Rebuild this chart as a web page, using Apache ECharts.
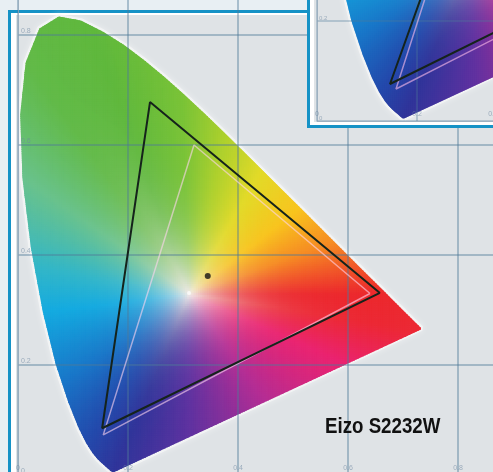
<!DOCTYPE html>
<html>
<head>
<meta charset="utf-8">
<script src="https://cdn.jsdelivr.net/npm/echarts@6/dist/echarts.min.js"></script>
<style>
  html, body { margin: 0; padding: 0; background: #e8eff3; }
  #chart { width: 493px; height: 472px; }
</style>
</head>
<body>
<div id="chart"></div>
<script>
// CIE 1931 2° spectral locus, 380–700 nm (chromaticity x, y)
const locusX = [0.1741,0.1740,0.1738,0.1736,0.1733,0.1730,0.1726,0.1721,0.1714,0.1703,0.1689,0.1669,0.1644,0.1611,0.1566,0.1510,0.1440,0.1355,0.1241,0.1096,0.0913,0.0687,0.0454,0.0235,0.0082,0.0039,0.0139,0.0389,0.0743,0.1142,0.1547,0.1929,0.2296,0.2658,0.3016,0.3373,0.3731,0.4087,0.4441,0.4788,0.5125,0.5448,0.5752,0.6029,0.6270,0.6482,0.6658,0.6801,0.6915,0.7006,0.7079,0.7140,0.7190,0.7230,0.7260,0.7283,0.7300,0.7311,0.7320,0.7334,0.7344,0.7347];
const locusY = [0.0050,0.0050,0.0049,0.0049,0.0048,0.0048,0.0048,0.0048,0.0051,0.0058,0.0069,0.0086,0.0109,0.0138,0.0177,0.0227,0.0297,0.0399,0.0578,0.0868,0.1327,0.2007,0.2950,0.4127,0.5384,0.6548,0.7502,0.8120,0.8338,0.8262,0.8059,0.7816,0.7543,0.7243,0.6923,0.6589,0.6245,0.5896,0.5547,0.5202,0.4866,0.4544,0.4242,0.3965,0.3725,0.3514,0.3340,0.3197,0.3083,0.2993,0.2920,0.2859,0.2809,0.2770,0.2740,0.2717,0.2700,0.2689,0.2680,0.2666,0.2656,0.2653];

// Eizo S2232W measured primaries (R, G, B)
const gamutX = [0.658, 0.240, 0.153];
const gamutY = [0.331, 0.678, 0.085];
// reference colour space primaries (R, G, B)
const refX = [0.640, 0.320, 0.155];
const refY = [0.330, 0.600, 0.073];
// measured white point and D65 white
const measuredWhite = [0.345, 0.362];
const d65White = [0.311, 0.331];

// inset panel: comparison display primaries (R, G, B)
const insetGamutX = [0.640, 0.335, 0.146];
const insetGamutY = [0.318, 0.600, 0.074];
const insetRefX = [0.640, 0.330, 0.158];
const insetRefY = [0.310, 0.600, 0.064];

const tickValues = [0, 0.2, 0.4, 0.6, 0.8];
const title = 'Eizo S2232W';

// ---- colour field of the chromaticity diagram ----
const locus = locusX.map((x, i) => [x, locusY[i]]);
const W = [0.3127, 0.329];
// hue wheel around the white point: [angle in degrees, r, g, b]
const hueWheel = [
  [0, 236, 40, 45], [20, 246, 140, 35], [38, 248, 196, 30], [60, 226, 218, 40],
  [78, 172, 208, 45], [92, 122, 195, 55], [110, 95, 184, 60], [125, 98, 186, 72],
  [145, 105, 194, 140], [170, 50, 182, 200], [187, 20, 170, 224], [215, 25, 118, 200],
  [235, 35, 74, 172], [247, 48, 52, 154], [270, 95, 50, 160], [305, 180, 45, 148],
  [336, 234, 35, 112], [351, 236, 40, 52], [360, 236, 40, 45]
];
const whiteRGB = [240, 234, 232];

function inside(px, py) {
  let c = false;
  for (let i = 0, j = locus.length - 1; i < locus.length; j = i++) {
    const xi = locus[i][0], yi = locus[i][1], xj = locus[j][0], yj = locus[j][1];
    if ((yi > py) !== (yj > py) && px < (xj - xi) * (py - yi) / (yj - yi) + xi) c = !c;
  }
  return c;
}
function rayBoundary(a) {
  const dx = Math.cos(a), dy = Math.sin(a);
  let best = 0;
  const n = locus.length;
  for (let i = 0; i < n; i++) {
    const ax = locus[i][0] - W[0], ay = locus[i][1] - W[1];
    const bx = locus[(i + 1) % n][0] - W[0], by = locus[(i + 1) % n][1] - W[1];
    const ex = bx - ax, ey = by - ay;
    const den = dx * ey - dy * ex;
    if (Math.abs(den) < 1e-12) continue;
    const t = (ax * ey - ay * ex) / den;
    const u = (ax * dy - ay * dx) / den;
    if (u >= 0 && u <= 1 && t > 0) best = Math.max(best, t);
  }
  return best;
}
const boundary = [];
for (let d = 0; d <= 720; d++) boundary.push(rayBoundary(d * Math.PI / 360));

function hueAt(deg) {
  for (let i = 0; i < hueWheel.length - 1; i++) {
    const a = hueWheel[i], b = hueWheel[i + 1];
    if (deg >= a[0] && deg <= b[0]) {
      const t = (deg - a[0]) / (b[0] - a[0]);
      return [a[1] + (b[1] - a[1]) * t, a[2] + (b[2] - a[2]) * t, a[3] + (b[3] - a[3]) * t];
    }
  }
  return hueWheel[0].slice(1);
}
function colorAt(x, y) {
  const dx = x - W[0], dy = y - W[1];
  const r = Math.hypot(dx, dy);
  let deg = Math.atan2(dy, dx) * 180 / Math.PI;
  if (deg < 0) deg += 360;
  const R = boundary[Math.round(deg * 2)] || 0.3;
  const s = Math.min(1, r / R);
  const f = 1 - Math.pow(1 - s, 4.2);
  const h = hueAt(deg);
  const c = [0, 1, 2].map(k => Math.round(whiteRGB[k] * (1 - f) + h[k] * f));
  return 'rgb(' + c.join(',') + ')';
}
// cells covering the locus (any corner inside), later clipped to the locus outline
function buildCells(x0, x1, y0, y1, step) {
  const out = [];
  for (let x = x0; x < x1; x += step) {
    for (let y = y0; y < y1; y += step) {
      const cx = x + step / 2, cy = y + step / 2;
      if (inside(cx, cy) || inside(x, y) || inside(x + step, y) || inside(x, y + step) || inside(x + step, y + step)) {
        out.push([x, y, step, colorAt(cx, cy)]);
      }
    }
  }
  return out;
}
const mainCells = buildCells(0, 0.74, 0, 0.84, 0.004);
const insetCells = buildCells(0, 0.36, 0, 0.25, 0.004);

const closedLocus = locus.concat([locus[0]]);
const tri = (xs, ys) => xs.map((x, i) => [x, ys[i]]).concat([[xs[0], ys[0]]]);

// one custom item per panel: all colour cells in a group clipped by the locus polygon
function fieldRenderer(cells) {
  return function (params, api) {
    const children = cells.map(c => {
      const p0 = api.coord([c[0], c[1] + c[2]]);
      const p1 = api.coord([c[0] + c[2], c[1]]);
      return {
        type: 'rect',
        shape: { x: p0[0] - 0.35, y: p0[1] - 0.35, width: p1[0] - p0[0] + 0.7, height: p1[1] - p0[1] + 0.7 },
        style: { fill: c[3] }
      };
    });
    return {
      type: 'group',
      clipPath: { type: 'polygon', shape: { points: locus.map(p => api.coord(p)) } },
      children
    };
  };
}

// ---- styles ----
const frameBlue = '#1592c6';
const plotBg = '#dfe3e6';
const gridColor = 'rgba(78,122,152,0.42)';
const labelStyle = { color: 'rgba(110,135,160,0.6)', fontSize: 7, fontFamily: 'Liberation Sans' };
const fmt = v => (tickValues.indexOf(Math.round(v * 10) / 10) >= 0 ? (v === 0 ? '0' : v.toFixed(1)) : '');

function valueAxis(gridIndex, min, max, z, extra) {
  return Object.assign({
    type: 'value', gridIndex, min, max, interval: 0.2, z,
    axisLine: { show: true, lineStyle: { color: 'rgba(150,170,188,0.7)', width: 1 } },
    axisTick: { show: false },
    axisLabel: Object.assign({ show: true, inside: true, margin: 3, formatter: fmt }, labelStyle),
    splitLine: { show: true, showMaxLine: false, lineStyle: { color: gridColor, width: 2 } }
  }, extra || {});
}

const chart = echarts.init(document.getElementById('chart'), null, { renderer: 'canvas' });
chart.setOption({
  animation: false,
  backgroundColor: '#e8eff3',
  grid: [
    // main diagram: 550 px per unit, origin at (18, 475)
    { left: 18, top: -20, width: 550, height: 495, outerBoundsMode: 'none', containLabel: false },
    // inset panel: 500 px per unit, origin at (317, 121)
    { left: 317, top: 0, width: 176, height: 121, outerBoundsMode: 'none', containLabel: false }
  ],
  xAxis: [
    valueAxis(0, 0, 1, 5),
    valueAxis(1, 0, 0.352, 15, { splitLine: { show: true, showMaxLine: false, lineStyle: { color: gridColor, width: 1.5 } } })
  ],
  yAxis: [
    valueAxis(0, 0, 0.9, 5, { axisLabel: Object.assign({ show: true, inside: true, margin: 3, verticalAlign: 'bottom', formatter: fmt }, labelStyle) }),
    valueAxis(1, 0, 0.242, 15, { axisLabel: Object.assign({ show: true, inside: true, margin: 2, verticalAlign: 'bottom', formatter: fmt }, labelStyle, { fontSize: 6 }),
      splitLine: { show: true, showMaxLine: false, lineStyle: { color: gridColor, width: 1.5 } } })
  ],
  graphic: [
    { type: 'rect', z: 0, silent: true, shape: { x: 8, y: 10, width: 600, height: 600 }, style: { fill: frameBlue } },
    { type: 'rect', z: 1, silent: true, shape: { x: 11, y: 13, width: 600, height: 600 }, style: { fill: '#ffffff' } },
    { type: 'rect', z: 2, silent: true, shape: { x: 16, y: 15, width: 600, height: 600 }, style: { fill: plotBg } },
    { type: 'rect', z: 10, silent: true, shape: { x: 307, y: -10, width: 300, height: 138 }, style: { fill: frameBlue } },
    { type: 'rect', z: 11, silent: true, shape: { x: 310, y: -10, width: 300, height: 135 }, style: { fill: '#ffffff' } },
    { type: 'rect', z: 12, silent: true, shape: { x: 314, y: -10, width: 300, height: 132 }, style: { fill: plotBg } },
    { type: 'text', z: 8, silent: true, x: 325, y: 427, scaleX: 0.85,
      style: { text: title, font: 'bold 22px "Liberation Sans", Arial, sans-serif', fill: '#111111', verticalAlign: 'middle' } }
  ],
  series: [
    // main diagram
    { type: 'line', xAxisIndex: 0, yAxisIndex: 0, z: 3, data: closedLocus, symbol: 'none', silent: true,
      lineStyle: { color: 'rgba(250,250,250,0.6)', width: 5, shadowBlur: 6, shadowColor: 'rgba(255,255,255,0.8)' } },
    { type: 'custom', xAxisIndex: 0, yAxisIndex: 0, z: 4, silent: true, data: [[0, 0]],
      renderItem: fieldRenderer(mainCells) },
    { type: 'line', xAxisIndex: 0, yAxisIndex: 0, z: 6, data: tri(refX, refY), symbol: 'none', silent: true,
      lineStyle: { color: 'rgba(255,214,240,0.6)', width: 1.5 } },
    { type: 'line', xAxisIndex: 0, yAxisIndex: 0, z: 6, data: tri(gamutX, gamutY), symbol: 'none', silent: true,
      lineStyle: { color: '#15231b', width: 2 } },
    { type: 'scatter', xAxisIndex: 0, yAxisIndex: 0, z: 7, silent: true,
      data: [
        { value: measuredWhite, symbolSize: 6, itemStyle: { color: '#141414' } },
        { value: d65White, symbolSize: 4, itemStyle: { color: 'rgba(255,255,255,0.85)' } }
      ] },
    // inset panel
    { type: 'line', xAxisIndex: 1, yAxisIndex: 1, z: 13, data: closedLocus, symbol: 'none', silent: true, clip: true,
      lineStyle: { color: 'rgba(250,250,250,0.6)', width: 5, shadowBlur: 6, shadowColor: 'rgba(255,255,255,0.8)' } },
    { type: 'custom', xAxisIndex: 1, yAxisIndex: 1, z: 14, silent: true, clip: true, data: [[0, 0]],
      renderItem: fieldRenderer(insetCells) },
    { type: 'line', xAxisIndex: 1, yAxisIndex: 1, z: 16, data: tri(insetRefX, insetRefY), symbol: 'none', silent: true, clip: true,
      lineStyle: { color: 'rgba(255,190,235,0.6)', width: 1.5 } },
    { type: 'line', xAxisIndex: 1, yAxisIndex: 1, z: 16, data: tri(insetGamutX, insetGamutY), symbol: 'none', silent: true, clip: true,
      lineStyle: { color: '#15231b', width: 2 } }
  ]
});
</script>
</body>
</html>
